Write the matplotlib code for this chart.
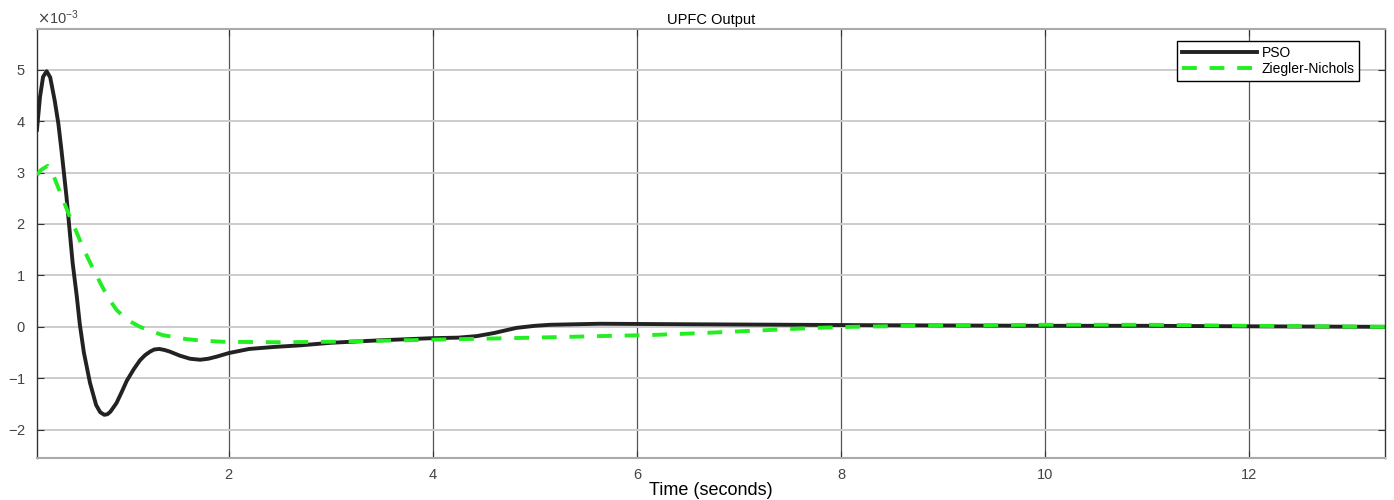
import numpy as np
import matplotlib
matplotlib.use('Agg')
import matplotlib.pyplot as plt
from matplotlib.ticker import ScalarFormatter

plt.rcParams['font.family'] = ['Liberation Sans', 'DejaVu Sans']

# === Dados (valores em 1e-3) ===
t_pso = [0.12, 0.15, 0.18, 0.215, 0.25, 0.294, 0.33, 0.36, 0.41, 0.47, 0.51, 0.54, 0.58,
         0.64, 0.70, 0.74, 0.78, 0.81, 0.84, 0.90, 0.95, 1.0, 1.07, 1.13, 1.18, 1.23, 1.27, 1.32, 1.37, 1.42,
         1.52, 1.62, 1.72, 1.80, 1.88, 2.0, 2.2, 2.45, 2.7, 3.0, 3.5, 4.0, 4.25,
         4.43, 4.6, 4.82, 5.0, 5.15, 5.64, 6.5, 7.5, 8.5, 10.0, 11.0, 12.0, 13.33]
y_pso = [3.83, 4.47, 4.86, 4.97, 4.85, 4.4, 3.95, 3.44, 2.52, 1.24, 0.6, 0.05, -0.5,
         -1.09, -1.52, -1.66, -1.71, -1.70, -1.65, -1.48, -1.27, -1.05, -0.82, -0.65, -0.55, -0.48, -0.44, -0.43, -0.45, -0.48,
         -0.56, -0.62, -0.64, -0.62, -0.58, -0.51, -0.43, -0.39, -0.36, -0.31, -0.26, -0.22, -0.21,
         -0.18, -0.12, -0.02, 0.02, 0.04, 0.06, 0.05, 0.04, 0.03, 0.02, 0.02, 0.01, 0.0]

t_zn = [0.12, 0.16, 0.225, 0.28, 0.37, 0.44, 0.51, 0.58, 0.66, 0.76, 0.83,
        0.9, 1.0, 1.13, 1.25, 1.35, 1.47, 1.59, 1.75, 1.94, 2.5, 3.0, 3.5,
        4.0, 4.5, 5.0, 5.64, 6.13, 6.65, 7.2, 7.76, 8.1, 9.0, 10.0, 11.0, 12.0, 13.33]
y_zn = [2.95, 3.05, 3.13, 2.95, 2.5, 2.15, 1.83, 1.5, 1.17, 0.78, 0.53,
        0.33, 0.14, 0.0, -0.09, -0.16, -0.2, -0.24, -0.27, -0.29, -0.30, -0.29, -0.27,
        -0.25, -0.23, -0.21, -0.18, -0.16, -0.12, -0.07, -0.02, 0.0, 0.03, 0.04, 0.04, 0.02, 0.0]

x_ticks = [2, 4, 6, 8, 10, 12]
y_ticks = [-2, -1, 0, 1, 2, 3, 4, 5]

escala = 1e-3

fig = plt.figure(figsize=(13.94, 5), dpi=100)
ax = fig.add_axes([0.0265, 0.084, 0.967, 0.859])

ax.plot(t_pso, np.array(y_pso) * escala, color='#222222', linewidth=2.8,
        solid_joinstyle='round', label='PSO', zorder=3)
ax.plot(t_zn, np.array(y_zn) * escala, color='#22ee22', linewidth=2.8,
        dashes=(3.8, 3.3), dash_joinstyle='round', label='Ziegler-Nichols', zorder=4)

ax.set_xlim(0.12, 13.33)
ax.set_ylim(-2.55 * escala, 5.8 * escala)
ax.set_xticks(x_ticks)
ax.set_yticks([v * escala for v in y_ticks])

fmt = ScalarFormatter(useMathText=True)
fmt.set_powerlimits((0, 0))
ax.yaxis.set_major_formatter(fmt)
ax.yaxis.get_offset_text().set_fontsize(10.5)
ax.yaxis.get_offset_text().set_color('#444444')

ax.xaxis.grid(True, color='#555555', linewidth=0.9)
ax.yaxis.grid(True, color='#cccccc', linewidth=1.4)
ax.set_axisbelow(True)

ax.tick_params(direction='in', length=5, top=True, right=True,
               labelsize=10.5, colors='#333333', labelcolor='#444444')
ax.tick_params(axis='y', pad=8)
ax.tick_params(axis='x', pad=7)
for lado in ['top', 'bottom']:
    ax.spines[lado].set_color('#aaaaaa')
    ax.spines[lado].set_linewidth(1.5)
for lado in ['left', 'right']:
    ax.spines[lado].set_color('#333333')
    ax.spines[lado].set_linewidth(1.0)

ax.set_title('UPFC Output', fontsize=10.5, pad=3)
ax.set_xlabel('Time (seconds)', fontsize=13, labelpad=0)

leg = ax.legend(loc='upper right', bbox_to_anchor=(0.981, 0.970),
                borderaxespad=0, fontsize=10, handlelength=5.4,
                fancybox=False, framealpha=1, edgecolor='black',
                borderpad=0.35, labelspacing=0.15, handletextpad=0.3)
leg.get_frame().set_linewidth(1.0)

plt.savefig('out.png', dpi=100)
plt.close()
